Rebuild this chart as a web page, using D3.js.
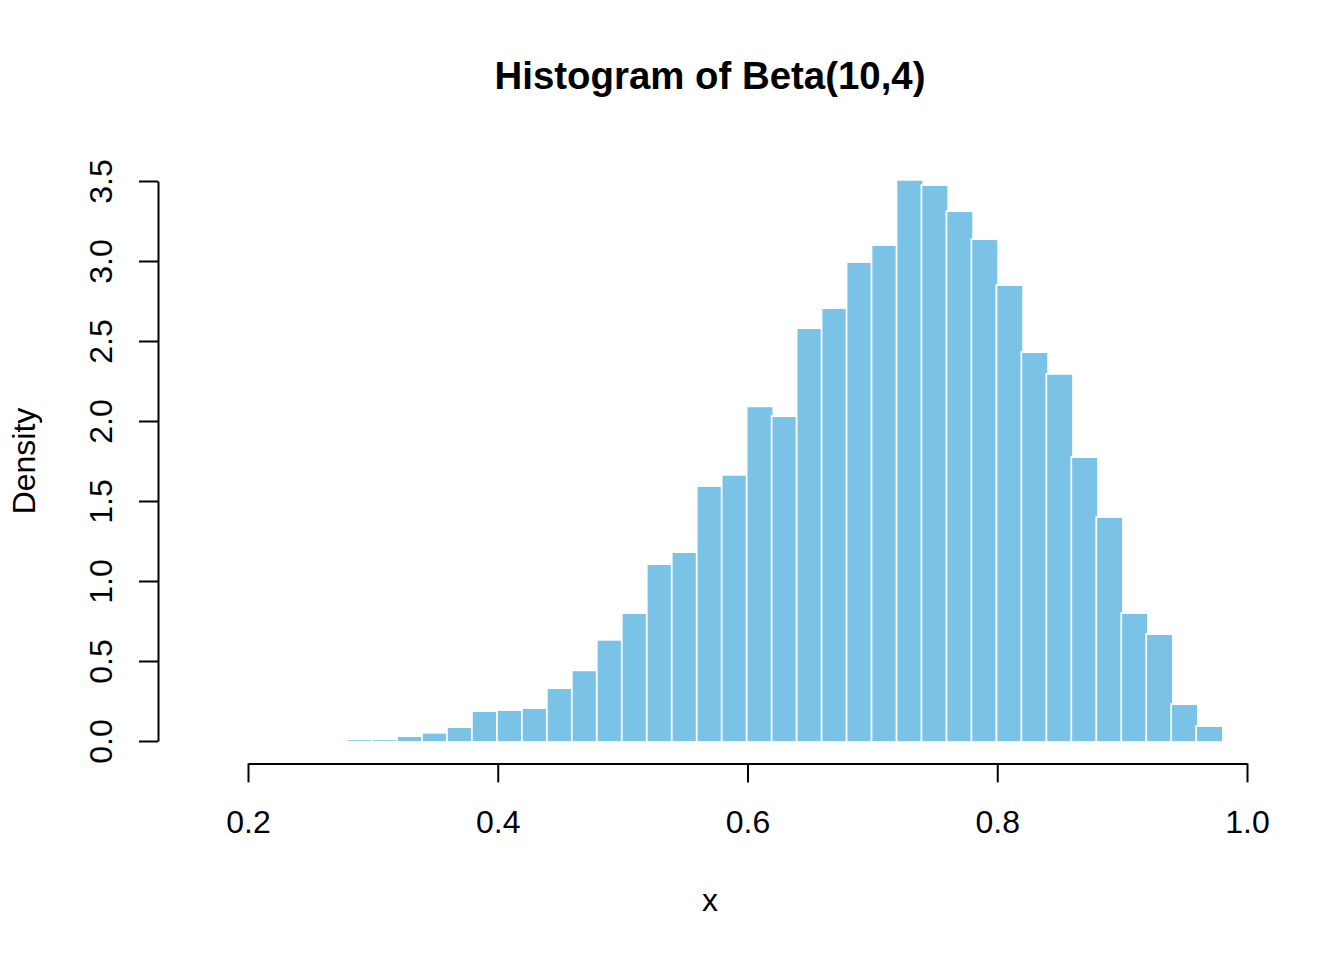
<!DOCTYPE html>
<html>
<head>
<meta charset="utf-8">
<script src="https://cdn.jsdelivr.net/npm/d3@7"></script>
<style>
	body { margin: 0; background: #fff; }
	text { font-family: "Liberation Sans", Arial, sans-serif; fill: #000; }
</style>
</head>
<body>
<div id="chart"></div>
<script>
// Histogram breaks (left edges, bin width 0.02) and densities
const BREAKS = [0.28, 0.30, 0.32, 0.34, 0.36, 0.38, 0.40, 0.42, 0.44, 0.46,
	0.48, 0.50, 0.52, 0.54, 0.56, 0.58, 0.60, 0.62, 0.64, 0.66,
	0.68, 0.70, 0.72, 0.74, 0.76, 0.78, 0.80, 0.82, 0.84, 0.86,
	0.88, 0.90, 0.92, 0.94, 0.96, 0.98];
const DENSITY = [0.005, 0.005, 0.025, 0.046, 0.081, 0.181, 0.188, 0.200, 0.325, 0.436,
	0.627, 0.794, 1.100, 1.175, 1.588, 1.658, 2.086, 2.025, 2.575, 2.700,
	2.988, 3.094, 3.502, 3.469, 3.306, 3.131, 2.844, 2.425, 2.289, 1.769,
	1.394, 0.794, 0.663, 0.225, 0.088];
const X_TICKS = [0.2, 0.4, 0.6, 0.8, 1.0];
const Y_TICKS = [0, 0.5, 1.0, 1.5, 2.0, 2.5, 3.0, 3.5];

const WIDTH = 1344;
const HEIGHT = 960;
const PLOT = {left: 158, right: 1262, top: 158.6, bottom: 763.4};
const TICK = 19;

const svg = d3.select('#chart').append('svg')
	.attr('width', WIDTH)
	.attr('height', HEIGHT);

// Scales
const xScale = d3.scaleLinear()
	.domain([0.2, 1.0])
	.range([248, 1247]);

const yScale = d3.scaleLinear()
	.domain([0, 3.5])
	.range([741, 181]);

// Bars (white border drawn under the fill so very low bins stay visible)
const bins = DENSITY.map((d, i) => ({x0: BREAKS[i], x1: BREAKS[i + 1], y: d}));

svg.append('g')
	.selectAll('rect')
	.data(bins)
	.join('rect')
	.attr('x', d => xScale(d.x0))
	.attr('width', d => xScale(d.x1) - xScale(d.x0))
	.attr('y', d => yScale(d.y))
	.attr('height', d => yScale(0) - yScale(d.y))
	.attr('fill', '#7AC3E6')
	.attr('stroke', '#fff')
	.attr('stroke-width', 3.5)
	.style('paint-order', 'stroke');

// X axis
const xAxis = d3.axisBottom(xScale)
	.tickValues(X_TICKS)
	.tickFormat(d3.format('.1f'))
	.tickSize(TICK)
	.tickSizeOuter(0);

const gx = svg.append('g')
	.attr('transform', `translate(0, ${PLOT.bottom})`)
	.call(xAxis);
gx.select('.domain').attr('stroke-width', 2);
gx.selectAll('.tick line').attr('stroke-width', 2);
gx.selectAll('.tick text')
	.attr('y', 70)
	.attr('dy', 0)
	.style('font-size', '32px')
	.style('font-family', '"Liberation Sans", Arial, sans-serif');

// Y axis
const yAxis = d3.axisLeft(yScale)
	.tickValues(Y_TICKS)
	.tickFormat(d3.format('.1f'))
	.tickSize(TICK)
	.tickSizeOuter(0);

const gy = svg.append('g')
	.attr('transform', `translate(${PLOT.left}, 0)`)
	.call(yAxis);
gy.select('.domain').attr('stroke-width', 2);
gy.selectAll('.tick line').attr('stroke-width', 2);
gy.selectAll('.tick text')
	.attr('transform', 'rotate(-90)')
	.attr('x', 0)
	.attr('y', -46)
	.attr('dy', 0)
	.attr('text-anchor', 'middle')
	.style('font-size', '32px')
	.style('font-family', '"Liberation Sans", Arial, sans-serif');

// Titles
const cx = (PLOT.left + PLOT.right) / 2;

svg.append('text')
	.attr('x', cx)
	.attr('y', 89)
	.attr('text-anchor', 'middle')
	.style('font-size', '38.4px')
	.style('font-weight', 'bold')
	.text('Histogram of Beta(10,4)');

svg.append('text')
	.attr('x', cx)
	.attr('y', 911)
	.attr('text-anchor', 'middle')
	.style('font-size', '32px')
	.text('x');

svg.append('text')
	.attr('transform', `translate(34.5, ${(PLOT.top + PLOT.bottom) / 2}) rotate(-90)`)
	.attr('text-anchor', 'middle')
	.style('font-size', '32px')
	.text('Density');
</script>
</body>
</html>
